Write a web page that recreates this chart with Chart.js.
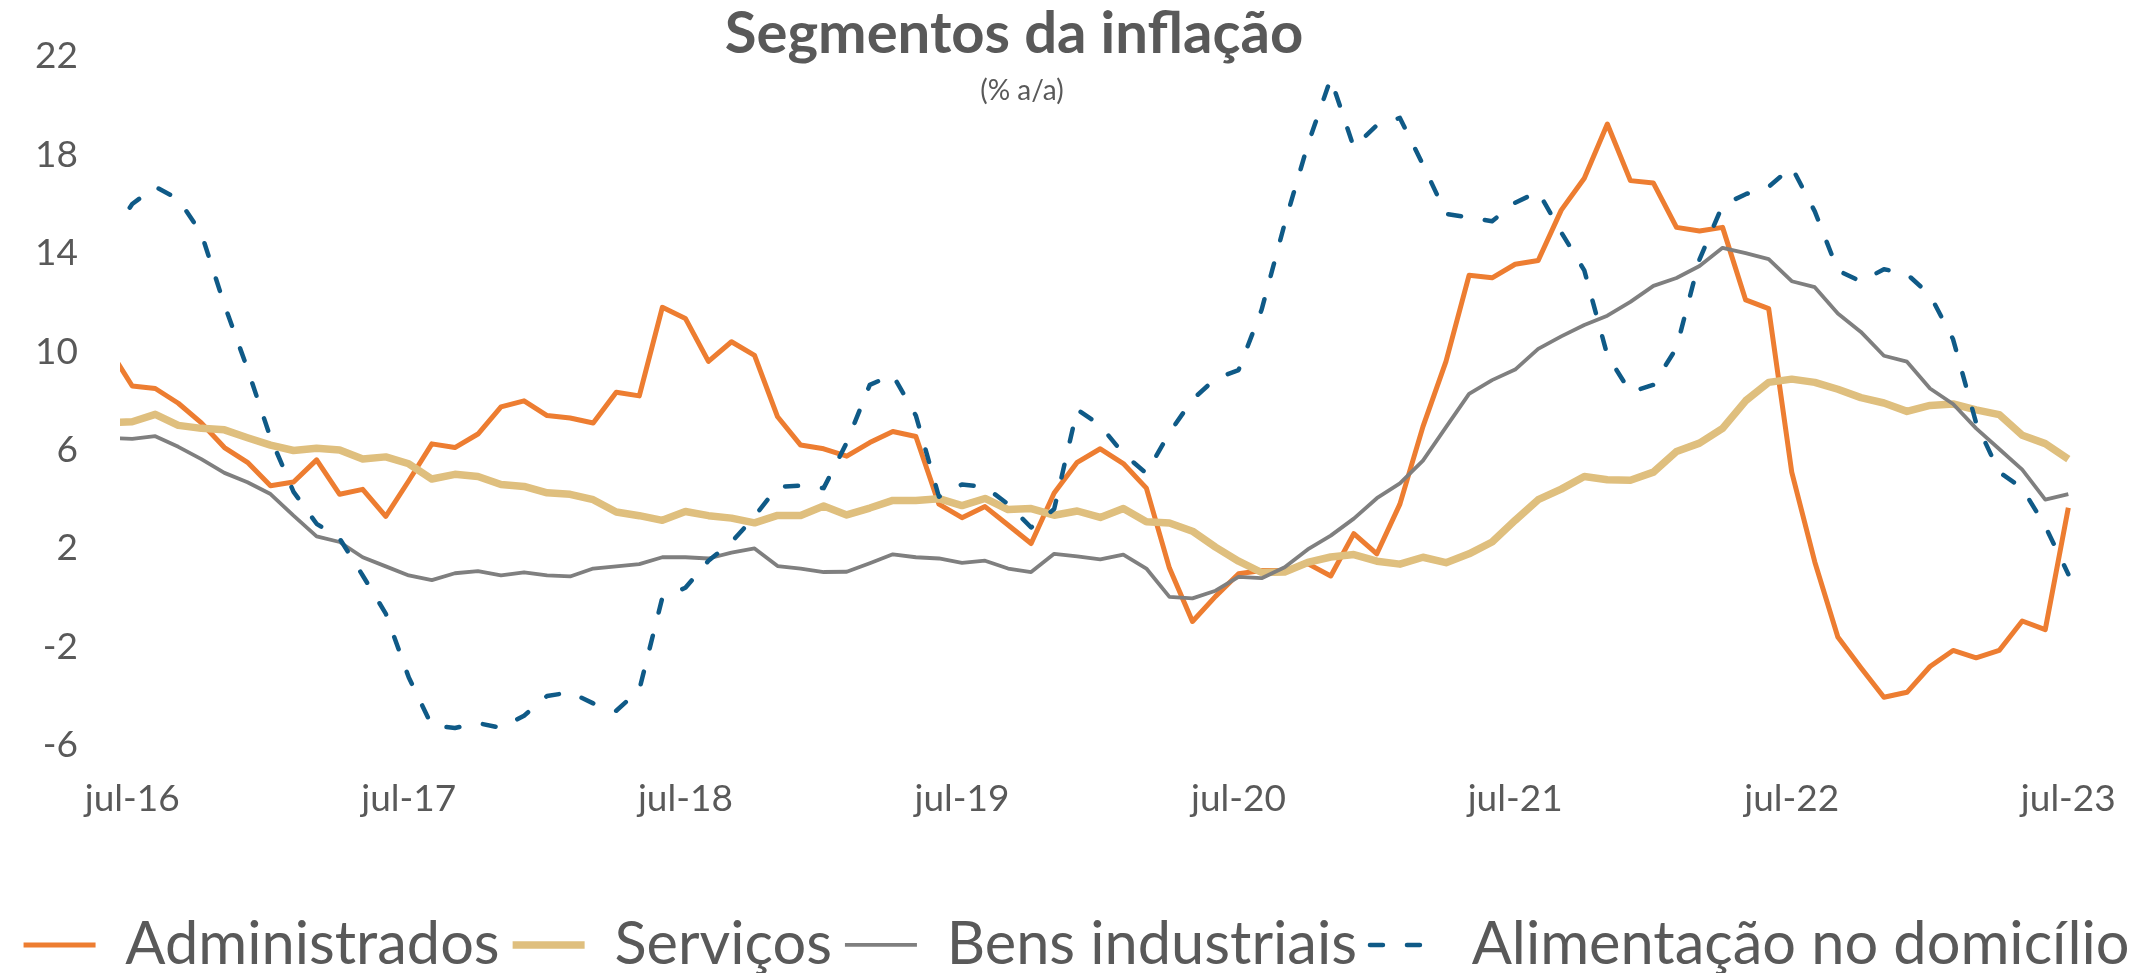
<!DOCTYPE html>
<html>
<head>
<meta charset="utf-8">
<title>Segmentos da inflação</title>
<script src="https://cdn.jsdelivr.net/npm/chart.js@4.4.0/dist/chart.umd.min.js"></script>
<style>
  html, body { margin: 0; padding: 0; background: #fff; }
  #wrap { width: 2153px; height: 973px; }
</style>
</head>
<body>
<div id="wrap"><canvas id="chart" width="2153" height="973"></canvas></div>
<script>
// monthly data, jun-16 .. jul-23 (jun-16 sits just left of the plot and is clipped)
const months = [
  'jun-16', 'jul-16', 'ago-16', 'set-16', 'out-16', 'nov-16', 'dez-16',
  'jan-17', 'fev-17', 'mar-17', 'abr-17', 'mai-17', 'jun-17', 'jul-17', 'ago-17', 'set-17', 'out-17', 'nov-17', 'dez-17',
  'jan-18', 'fev-18', 'mar-18', 'abr-18', 'mai-18', 'jun-18', 'jul-18', 'ago-18', 'set-18', 'out-18', 'nov-18', 'dez-18',
  'jan-19', 'fev-19', 'mar-19', 'abr-19', 'mai-19', 'jun-19', 'jul-19', 'ago-19', 'set-19', 'out-19', 'nov-19', 'dez-19',
  'jan-20', 'fev-20', 'mar-20', 'abr-20', 'mai-20', 'jun-20', 'jul-20', 'ago-20', 'set-20', 'out-20', 'nov-20', 'dez-20',
  'jan-21', 'fev-21', 'mar-21', 'abr-21', 'mai-21', 'jun-21', 'jul-21', 'ago-21', 'set-21', 'out-21', 'nov-21', 'dez-21',
  'jan-22', 'fev-22', 'mar-22', 'abr-22', 'mai-22', 'jun-22', 'jul-22', 'ago-22', 'set-22', 'out-22', 'nov-22', 'dez-22',
  'jan-23', 'fev-23', 'mar-23', 'abr-23', 'mai-23', 'jun-23', 'jul-23'
];

const administrados = [
  10.1, 8.6, 8.5, 7.9, 7.1, 6.1, 5.5,
  4.55, 4.7, 5.6, 4.2, 4.4, 3.3, 4.75, 6.25, 6.1, 6.65, 7.75, 8.0,
  7.4, 7.3, 7.1, 8.35, 8.2, 11.8, 11.35, 9.6, 10.4, 9.85, 7.35, 6.2,
  6.05, 5.75, 6.3, 6.75, 6.55, 3.8, 3.25, 3.7, 2.95, 2.2, 4.25, 5.5,
  6.05, 5.45, 4.45, 1.2, -0.97, 0.05, 0.97, 1.1, 1.1, 1.38, 0.88, 2.6,
  1.78, 3.8, 6.95, 9.6, 13.1, 13.0, 13.55, 13.7, 15.75, 17.05, 19.25, 16.95,
  16.85, 15.05, 14.9, 15.05, 12.1, 11.75, 5.1, 1.45, -1.6, -2.85, -4.05, -3.85,
  -2.8, -2.15, -2.45, -2.15, -0.95, -1.3, 3.65
];

const servicos = [
  7.1, 7.15, 7.45, 7.0, 6.88, 6.82, 6.5,
  6.2, 5.98, 6.07, 6.0, 5.63, 5.72, 5.44, 4.82, 5.01, 4.92, 4.6, 4.52,
  4.26, 4.2, 3.98, 3.48, 3.33, 3.14, 3.5, 3.33, 3.23, 3.04, 3.34, 3.34,
  3.72, 3.36, 3.64, 3.95, 3.95, 4.02, 3.74, 4.03, 3.58, 3.62, 3.35, 3.52,
  3.26, 3.62, 3.08, 3.03, 2.7, 2.05, 1.48, 1.02, 1.04, 1.43, 1.65, 1.75,
  1.48, 1.36, 1.64, 1.42, 1.78, 2.26, 3.14, 3.98, 4.41, 4.92, 4.79, 4.77,
  5.1, 5.94, 6.28, 6.88, 8.0, 8.75, 8.88, 8.75, 8.47, 8.13, 7.91, 7.57,
  7.81, 7.87, 7.63, 7.44, 6.6, 6.26, 5.63
];

const bensIndustriais = [
  6.5, 6.45, 6.56, 6.13, 5.63, 5.07, 4.69,
  4.21, 3.33, 2.49, 2.26, 1.64, 1.27, 0.9, 0.71, 0.99, 1.08, 0.9, 1.03,
  0.9, 0.86, 1.18, 1.27, 1.36, 1.64, 1.64, 1.59, 1.83, 2.0, 1.28, 1.18,
  1.04, 1.05, 1.4, 1.76, 1.64, 1.59, 1.41, 1.5, 1.18, 1.04, 1.78, 1.68,
  1.55, 1.75, 1.18, 0.03, -0.03, 0.28, 0.84, 0.79, 1.23, 1.96, 2.52, 3.21,
  4.04, 4.64, 5.57, 6.93, 8.28, 8.84, 9.27, 10.11, 10.62, 11.08, 11.46, 12.02,
  12.67, 12.99, 13.48, 14.22, 14.0, 13.76, 12.86, 12.62, 11.55, 10.8, 9.83, 9.59,
  8.5, 7.87, 6.88, 6.04, 5.2, 3.98, 4.21
];

const alimentacao = [
  14.6, 16.0, 16.7, 16.2, 14.8, 11.9, 9.3,
  6.5, 4.3, 3.0, 2.4, 0.9, -0.65, -3.25, -5.2, -5.3, -5.1, -5.3, -4.8,
  -4.0, -3.85, -4.3, -4.6, -3.75, 0.0, 0.4, 1.5, 2.25, 3.3, 4.5, 4.55,
  4.45, 6.3, 8.65, 9.05, 7.4, 4.1, 4.6, 4.5, 3.8, 2.85, 3.6, 7.65,
  7.0, 5.85, 5.05, 6.7, 8.05, 8.9, 9.25, 11.7, 15.2, 18.4, 21.1, 18.3,
  19.2, 19.5, 17.6, 15.6, 15.45, 15.3, 16.05, 16.5, 14.85, 13.3, 9.85, 8.35,
  8.65, 10.15, 13.75, 15.95, 16.4, 16.7, 17.5, 15.7, 13.3, 12.85, 13.35, 13.15,
  12.3, 10.5, 7.1, 5.1, 4.45, 2.9, 0.95
];

const xTickLabels = ['jul-16', 'jul-17', 'jul-18', 'jul-19', 'jul-20', 'jul-21', 'jul-22', 'jul-23'];
const yTickValues = [-6, -2, 2, 6, 10, 14, 18, 22];

const textColor = '#595959';
const fontFamily = "Lato, 'Liberation Sans', sans-serif";

// position of each month on the x axis (jul-16 = 0)
const xPos = months.map((m, i) => i - 1);

// title and subtitle sit over the plot, like in the original
const titlePlugin = {
  id: 'chartTitle',
  afterDraw(chart) {
    const ctx = chart.ctx;
    ctx.save();
    ctx.fillStyle = textColor;
    ctx.textAlign = 'center';
    ctx.textBaseline = 'alphabetic';
    ctx.font = 'bold 58px ' + fontFamily;
    ctx.fillText('Segmentos da inflação', 1014, 53);
    ctx.font = '28px ' + fontFamily;
    ctx.fillText('(% a/a)', 1022, 100);
    ctx.restore();
  }
};

function lineSet(label, data, color, width, order, dash) {
  return {
    label: label,
    data: data,
    borderColor: color,
    backgroundColor: color,
    borderWidth: width,
    borderDash: dash || [],
    borderCapStyle: dash ? 'round' : 'butt',
    borderJoinStyle: 'round',
    pointRadius: 0,
    tension: 0,
    order: order,
    clip: { left: 0, right: 0, top: false, bottom: false }
  };
}

new Chart(document.getElementById('chart'), {
  type: 'line',
  data: {
    labels: xPos,
    datasets: [
      lineSet('Administrados', administrados, '#ED7D31', 5, 3),
      lineSet('Serviços', servicos, '#DFBF7E', 7.5, 2),
      lineSet('Bens industriais', bensIndustriais, '#7F7F7F', 3.8, 1),
      lineSet('Alimentação no domicílio', alimentacao, '#0F5A87', 4.5, 0, [13, 24])
    ]
  },
  options: {
    responsive: false,
    devicePixelRatio: 1,
    animation: false,
    events: [],
    layout: { padding: { top: 56.4, bottom: -11.7, left: 0, right: 0 } },
    plugins: {
      tooltip: { enabled: false },
      legend: {
        position: 'bottom',
        labels: {
          usePointStyle: true,
          pointStyle: 'line',
          pointStyleWidth: 72,
          padding: 13,
          color: textColor,
          font: { family: fontFamily, size: 59.5 },
          sort: (a, b) => a.datasetIndex - b.datasetIndex,
          // keep the dash of the food series in the legend sample
          generateLabels: (chart) => {
            const items = Chart.defaults.plugins.legend.labels.generateLabels(chart);
            items.forEach(item => {
              const ds = chart.data.datasets[item.datasetIndex];
              item.lineDash = ds.borderDash;
              item.lineCap = ds.borderCapStyle;
              item.lineWidth = ds.borderWidth;
            });
            return items;
          }
        }
      }
    },
    scales: {
      x: {
        type: 'linear',
        min: -0.53,
        max: 84.55,
        grid: { display: false },
        border: { display: false },
        afterBuildTicks: (scale) => {
          scale.ticks = xTickLabels.map(m => ({ value: months.indexOf(m) - 1 }));
        },
        afterFit: (scale) => { scale.height = 157; },
        ticks: {
          autoSkip: false,
          maxRotation: 0,
          padding: 24,
          color: textColor,
          font: { family: fontFamily, size: 37 },
          callback: (value) => months[value + 1]
        }
      },
      y: {
        min: -6,
        max: 22,
        afterBuildTicks: (scale) => {
          scale.ticks = yTickValues.map(v => ({ value: v }));
        },
        afterFit: (scale) => {
          scale.width = 120;
          // the label padding must not push the plot top down
          scale.paddingTop = 0;
          scale.paddingBottom = 0;
        },
        grid: {
          drawTicks: false,
          color: (c) => c.tick && c.tick.value === 0 ? '#D9D9D9' : 'rgba(0,0,0,0)',
          lineWidth: 2.5
        },
        border: { display: false },
        ticks: {
          padding: 42,
          color: textColor,
          font: { family: fontFamily, size: 37 }
        }
      },
      // empty axis that keeps the right margin of the plot
      yPad: {
        position: 'right',
        grid: { display: false },
        border: { display: false },
        ticks: { display: false },
        afterFit: (scale) => { scale.width = 72; }
      }
    }
  },
  plugins: [titlePlugin]
});
</script>
</body>
</html>
